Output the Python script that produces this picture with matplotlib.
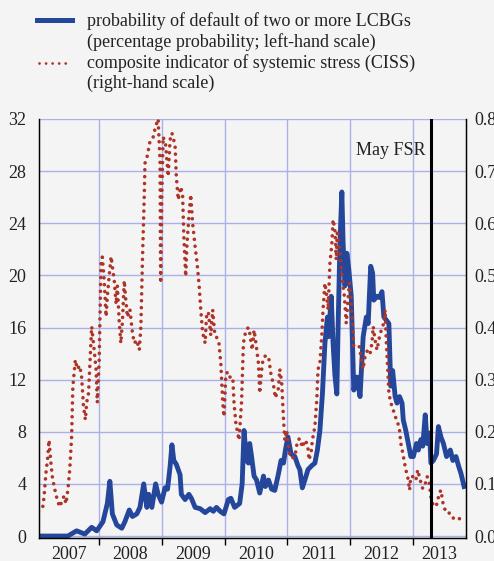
import numpy as np
import matplotlib.pyplot as plt
from matplotlib.lines import Line2D
from matplotlib.ticker import FixedLocator, NullFormatter, FixedFormatter

plt.rcParams['font.family'] = ['Liberation Serif', 'DejaVu Serif']
plt.rcParams['font.size'] = 13

# probability of default of two or more LCBGs (percent, left scale)
pd_dates = [2007.05, 2007.50, 2007.64, 2007.77, 2007.88, 2007.96, 2008.06, 2008.13,
            2008.17, 2008.21, 2008.28, 2008.36, 2008.41, 2008.48, 2008.53, 2008.60,
            2008.65, 2008.71, 2008.76, 2008.79, 2008.84, 2008.90, 2008.94, 2008.995,
            2009.05, 2009.09, 2009.13, 2009.16, 2009.19, 2009.23, 2009.29, 2009.31,
            2009.37, 2009.43, 2009.47, 2009.53, 2009.61, 2009.69, 2009.77, 2009.82,
            2009.87, 2009.93, 2009.99, 2010.06, 2010.10, 2010.16, 2010.24, 2010.28,
            2010.31, 2010.35, 2010.38, 2010.40, 2010.43, 2010.47, 2010.51, 2010.56,
            2010.62, 2010.65, 2010.70, 2010.75, 2010.80, 2010.86, 2010.90, 2010.94,
            2010.97, 2011.01, 2011.06, 2011.12, 2011.17, 2011.20, 2011.24, 2011.28,
            2011.33, 2011.39, 2011.44, 2011.48, 2011.52, 2011.56, 2011.60, 2011.64,
            2011.66, 2011.70, 2011.73, 2011.76, 2011.79, 2011.81, 2011.84, 2011.87,
            2011.89, 2011.92, 2011.95, 2011.98, 2012.02, 2012.04, 2012.06, 2012.11,
            2012.16, 2012.21, 2012.26, 2012.29, 2012.33, 2012.36, 2012.38, 2012.43,
            2012.47, 2012.51, 2012.54, 2012.59, 2012.62, 2012.65, 2012.68, 2012.72,
            2012.75, 2012.79, 2012.83, 2012.85, 2012.89, 2012.93, 2012.97, 2013.01,
            2013.06, 2013.09, 2013.13, 2013.16, 2013.20, 2013.23, 2013.27, 2013.29,
            2013.33, 2013.38, 2013.41, 2013.45, 2013.49, 2013.54, 2013.60, 2013.64,
            2013.69, 2013.73, 2013.77, 2013.82]
pd_values = [0.0, 0.0, 0.4, 0.15, 0.67, 0.4, 1.1, 2.5,
             4.2, 1.7, 0.85, 0.6, 1.1, 2.0, 1.5, 1.7,
             2.2, 4.0, 2.2, 3.2, 2.2, 4.0, 3.2, 2.6,
             3.7, 3.6, 5.3, 7.0, 5.8, 5.5, 4.7, 3.2,
             2.8, 3.2, 2.9, 2.2, 2.1, 1.8, 2.1, 1.9,
             2.2, 1.9, 1.7, 2.8, 2.9, 2.2, 2.5, 4.0,
             8.1, 5.8, 5.6, 7.1, 6.1, 4.6, 4.3, 3.3,
             4.6, 3.8, 4.3, 3.6, 3.5, 4.8, 5.8, 5.6,
             6.6, 7.6, 6.3, 6.1, 5.4, 5.1, 3.7, 4.3,
             5.1, 5.4, 5.6, 6.6, 8.1, 10.9, 14.8, 16.8,
             15.3, 18.4, 14.8, 12.3, 10.9, 16.0, 22.5, 26.4,
             22.5, 19.2, 21.7, 20.5, 18.4, 14.8, 11.2, 12.2,
             10.7, 15.3, 16.8, 16.3, 20.7, 20.2, 18.1, 18.4,
             18.3, 18.75, 16.8, 16.5, 16.3, 11.5, 12.7, 10.7,
             10.2, 10.7, 10.2, 8.9, 8.1, 7.1, 6.1, 6.1,
             7.1, 6.6, 7.4, 6.9, 9.3, 7.1, 7.9, 5.6,
             5.8, 6.3, 8.4, 7.6, 7.1, 6.1, 6.6, 5.8,
             6.1, 5.4, 4.8, 3.8]

# composite indicator of systemic stress (right scale)
ciss_dates = [2007.03, 2007.10, 2007.12, 2007.15, 2007.18, 2007.20, 2007.23, 2007.255,
              2007.30, 2007.335, 2007.37, 2007.41, 2007.44, 2007.47, 2007.50, 2007.53,
              2007.56, 2007.58, 2007.62, 2007.65, 2007.69, 2007.72, 2007.75, 2007.78,
              2007.80, 2007.83, 2007.85, 2007.88, 2007.92, 2007.95, 2007.97, 2008.00,
              2008.03, 2008.05, 2008.08, 2008.11, 2008.13, 2008.16, 2008.19, 2008.21,
              2008.24, 2008.27, 2008.29, 2008.32, 2008.345, 2008.37, 2008.40, 2008.425,
              2008.45, 2008.49, 2008.53, 2008.56, 2008.60, 2008.64, 2008.665, 2008.69,
              2008.72, 2008.73, 2008.765, 2008.81, 2008.86, 2008.90, 2008.94, 2008.97,
              2008.98, 2009.00, 2009.02, 2009.06, 2009.10, 2009.13, 2009.16, 2009.21,
              2009.23, 2009.26, 2009.30, 2009.33, 2009.35, 2009.38, 2009.40, 2009.435,
              2009.46, 2009.49, 2009.53, 2009.56, 2009.595, 2009.62, 2009.65, 2009.69,
              2009.71, 2009.74, 2009.78, 2009.81, 2009.845, 2009.88, 2009.91, 2009.94,
              2009.97, 2009.99, 2010.02, 2010.05, 2010.085, 2010.13, 2010.15, 2010.18,
              2010.21, 2010.23, 2010.27, 2010.30, 2010.34, 2010.38, 2010.40, 2010.44,
              2010.47, 2010.50, 2010.54, 2010.56, 2010.60, 2010.64, 2010.70, 2010.74,
              2010.78, 2010.81, 2010.86, 2010.88, 2010.91, 2010.94, 2010.96, 2010.99,
              2011.015, 2011.04, 2011.08, 2011.12, 2011.165, 2011.20, 2011.24, 2011.28,
              2011.325, 2011.345, 2011.38, 2011.40, 2011.44, 2011.47, 2011.49, 2011.52,
              2011.55, 2011.57, 2011.60, 2011.63, 2011.65, 2011.68, 2011.71, 2011.73,
              2011.76, 2011.78, 2011.80, 2011.83, 2011.86, 2011.88, 2011.91, 2011.94,
              2011.96, 2011.99, 2012.02, 2012.04, 2012.06, 2012.11, 2012.15, 2012.19,
              2012.21, 2012.24, 2012.28, 2012.32, 2012.35, 2012.37, 2012.40, 2012.43,
              2012.47, 2012.51, 2012.54, 2012.56, 2012.58, 2012.60, 2012.62, 2012.65,
              2012.69, 2012.72, 2012.75, 2012.79, 2012.81, 2012.84, 2012.87, 2012.89,
              2012.92, 2012.95, 2012.97, 2013.01, 2013.05, 2013.08, 2013.12, 2013.16,
              2013.20, 2013.23, 2013.26, 2013.29, 2013.32, 2013.35, 2013.39, 2013.42,
              2013.45, 2013.49, 2013.54, 2013.60, 2013.65, 2013.70, 2013.76, 2013.82]
ciss_values = [0.047, 0.056, 0.075, 0.12, 0.152, 0.184, 0.14, 0.111,
               0.085, 0.068, 0.056, 0.068, 0.077, 0.062, 0.088, 0.127,
               0.19, 0.287, 0.338, 0.32, 0.327, 0.305, 0.248, 0.223,
               0.256, 0.274, 0.327, 0.402, 0.357, 0.32, 0.256, 0.338,
               0.53, 0.535, 0.49, 0.421, 0.46, 0.5, 0.536, 0.517,
               0.49, 0.445, 0.48, 0.41, 0.37, 0.41, 0.49, 0.452,
               0.42, 0.435, 0.39, 0.37, 0.376, 0.357, 0.402, 0.53,
               0.658, 0.715, 0.728, 0.757, 0.765, 0.786, 0.8, 0.72,
               0.485, 0.66, 0.766, 0.75, 0.69, 0.76, 0.773, 0.75,
               0.69, 0.645, 0.67, 0.655, 0.574, 0.498, 0.56, 0.62,
               0.655, 0.6, 0.555, 0.525, 0.479, 0.434, 0.39, 0.37,
               0.42, 0.43, 0.385, 0.434, 0.385, 0.38, 0.37, 0.331,
               0.256, 0.229, 0.31, 0.315, 0.305, 0.305, 0.256, 0.216,
               0.197, 0.184, 0.256, 0.37, 0.395, 0.4, 0.39, 0.357,
               0.395, 0.37, 0.331, 0.274, 0.331, 0.345, 0.345, 0.31,
               0.29, 0.265, 0.284, 0.32, 0.296, 0.223, 0.184, 0.203,
               0.178, 0.152, 0.15, 0.152, 0.184, 0.187, 0.17, 0.184,
               0.175, 0.146, 0.16, 0.184, 0.21, 0.261, 0.32, 0.331,
               0.385, 0.434, 0.485, 0.46, 0.434, 0.523, 0.56, 0.607,
               0.587, 0.53, 0.587, 0.555, 0.517, 0.49, 0.46, 0.408,
               0.44, 0.485, 0.453, 0.408, 0.363, 0.363, 0.363, 0.331,
               0.32, 0.345, 0.357, 0.35, 0.37, 0.402, 0.376, 0.357,
               0.382, 0.4, 0.408, 0.434, 0.37, 0.325, 0.274, 0.256,
               0.242, 0.229, 0.223, 0.203, 0.178, 0.16, 0.14, 0.127,
               0.114, 0.088, 0.114, 0.114, 0.107, 0.127, 0.107, 0.091,
               0.1, 0.114, 0.107, 0.075, 0.062, 0.056, 0.062, 0.081,
               0.088, 0.058, 0.044, 0.044, 0.034, 0.031, 0.034, 0.04]

years = [2007, 2008, 2009, 2010, 2011, 2012, 2013]
fsr_date = 2013.29
left_ticks = [0, 4, 8, 12, 16, 20, 24, 28, 32]
right_ticks = [0.0, 0.1, 0.2, 0.3, 0.4, 0.5, 0.6, 0.7, 0.8]

bg = '#f4f4f4'
blue = '#24479b'
red = '#ad3427'
grid_col = '#aab0e8'
txt = '#222222'
xmin, xmax = 2007.04, 2013.85

fig = plt.figure(figsize=(4.94, 5.61), dpi=100, facecolor=bg)
ax = fig.add_axes([39 / 494, 23 / 561, 427 / 494, 419 / 561], facecolor=bg)
ax.set_xlim(xmin, xmax)
ax.set_ylim(-0.15, 32)

ax.set_yticks(left_ticks)
ax.tick_params(axis='y', length=0, pad=9, labelsize=13, colors=txt)
ax.grid(True, color=grid_col, linewidth=1.0)
ax.set_axisbelow(True)

# year boundaries as ticks, labels centred in each visible year
ax.xaxis.set_major_locator(FixedLocator(years[1:]))
ax.xaxis.set_major_formatter(NullFormatter())
mids = [(max(y, xmin) + min(y + 1, xmax)) / 2 for y in years]
ax.xaxis.set_minor_locator(FixedLocator(mids))
ax.xaxis.set_minor_formatter(FixedFormatter([str(y) for y in years]))
ax.tick_params(axis='x', which='major', length=5, width=1, color='black', direction='out')
ax.tick_params(axis='x', which='minor', length=0, pad=6, labelsize=13, colors=txt)

ax.spines['top'].set_visible(False)
for s in ['left', 'bottom', 'right']:
    ax.spines[s].set_color('black')
    ax.spines[s].set_linewidth(1.0)

ax.plot(pd_dates, pd_values, color=blue, linewidth=3.5, solid_joinstyle='round')

ax2 = ax.twinx()
ax2.set_ylim(-0.15 / 40, 0.8)
ax2.set_yticks(right_ticks)
ax2.set_yticklabels(['%.1f' % v for v in right_ticks])
ax2.tick_params(axis='y', length=0, pad=6, labelsize=13, colors=txt)
ax2.spines['top'].set_visible(False)
ax2.plot(ciss_dates, ciss_values, color=red, linewidth=2.6,
         linestyle=(0, (0.01, 1.9)), dash_capstyle='round')

ax2.axvline(fsr_date, color='black', linewidth=2.2)
ax2.text(fsr_date - 0.08, 0.74, 'May FSR', ha='right', va='center', fontsize=13,
         color=txt)

# legend drawn by hand at the top
fig.add_artist(Line2D([37 / 494, 72 / 494], [1 - 19.5 / 561, 1 - 19.5 / 561],
                      color=blue, linewidth=3.6))
fig.add_artist(Line2D([38.5 / 494, 71 / 494], [1 - 63 / 561, 1 - 63 / 561],
                      color=red, linewidth=2.0, linestyle=(0, (0.01, 2.35)),
                      dash_capstyle='round'))
legend_lines = ['probability of default of two or more LCBGs',
                '(percentage probability; left-hand scale)',
                'composite indicator of systemic stress (CISS)',
                '(right-hand scale)']
baselines = [26, 47, 68, 88]
for line, b in zip(legend_lines, baselines):
    fig.text(87 / 494, 1 - b / 561, line, ha='left', va='baseline',
             fontsize=13, color=txt)

fig.savefig('out.png', dpi=100, facecolor=bg)
